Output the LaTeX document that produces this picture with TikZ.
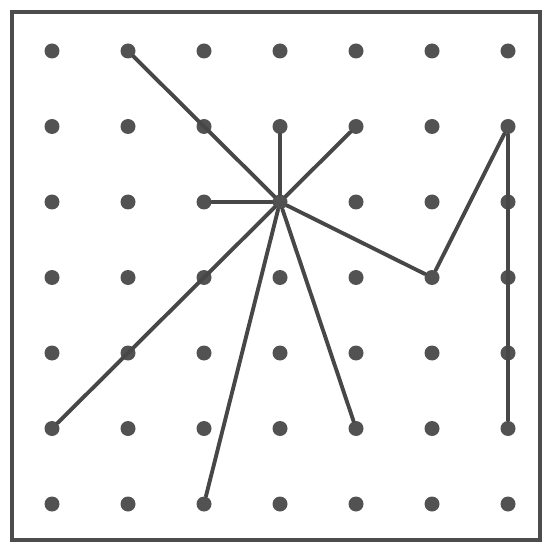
\documentclass[tikz,border=0pt]{standalone}
\usepackage{tikz}
\usetikzlibrary{positioning}

\begin{document}
\begin{tikzpicture}[
    x=0.02cm, y=-0.02cm,
    dot/.style={circle, fill=black!68, inner sep=0pt, minimum size=0.3cm},
    band/.style={draw=black!72, line width=2.2pt, line cap=round},
    frame/.style={draw=black!70, line width=2pt}
]
\useasboundingbox (0,0) rectangle (546,543);

% Rahmen
\draw[frame] (12,12) rectangle (540,540);

% Punktraster
\foreach \i in {0,...,6} {
  \foreach \j in {0,...,6} {
    \node[dot] (p\i\j) at ({52+76*\i},{51+75.5*\j}) {};
  }
}

% Streckenzuege
\draw[band] (p10) -- (p32);
\draw[band] (p31) -- (p32);
\draw[band] (p41) -- (p32);
\draw[band] (p22) -- (p32);
\draw[band] (p05) -- (p32);
\draw[band] (p26) -- (p32);
\draw[band] (p45) -- (p32);
\draw[band] (p32) -- (p53) -- (p61) -- (p65);

\end{tikzpicture}
\end{document}
